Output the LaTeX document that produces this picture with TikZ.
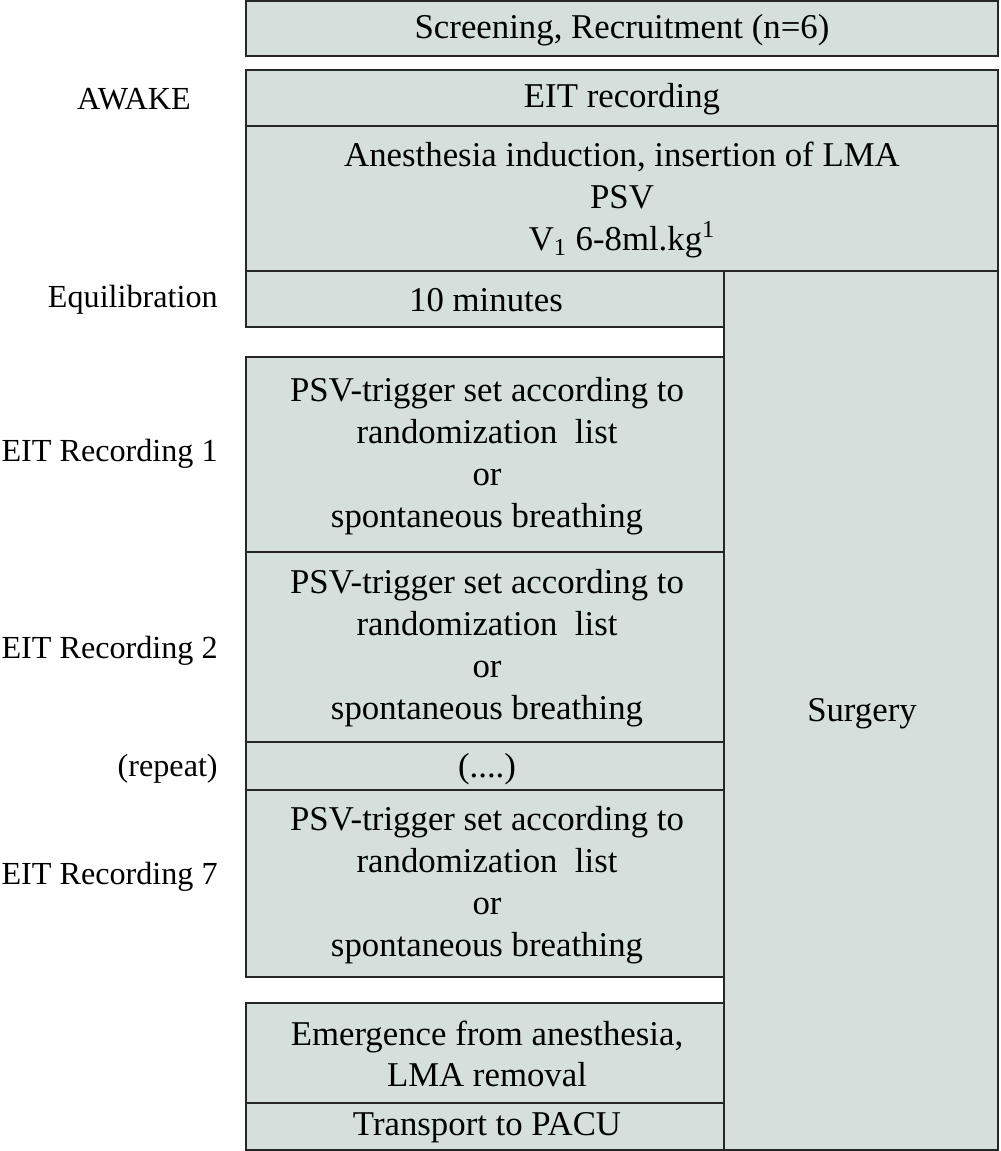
\documentclass[tikz,border=0pt]{standalone}
\usepackage{fontspec}
\setmainfont{Liberation Serif}
\definecolor{boxfill}{RGB}{213,224,221}
\begin{document}
\begin{tikzpicture}[x=0.02cm,y=-0.02cm,
  box/.style={draw=black!85,line width=0.9pt,fill=boxfill},
  txt/.style={align=center,inner sep=0pt,font=\fontsize{19.8}{23.8}\selectfont},
  lbl/.style={anchor=east,inner sep=0pt,font=\fontsize{18.3}{23.8}\selectfont}]
\useasboundingbox (0,0) rectangle (1000,1151);
% surgery column
\draw[box] (724,271) rectangle (998,1150);
% boxes
\draw[box] (246,1) rectangle (998,56);
\draw[box] (246,70) rectangle (998,126);
\draw[box] (246,126) rectangle (998,271);
\draw[box] (246,271) rectangle (724,327);
\draw[box] (246,357) rectangle (724,552);
\draw[box] (246,552) rectangle (724,742);
\draw[box] (246,742) rectangle (724,790);
\draw[box] (246,790) rectangle (724,977);
\draw[box] (246,1003) rectangle (724,1103);
\draw[box] (246,1103) rectangle (724,1150);
% box texts
\node[txt] (screen) at (622,30) {Screening, Recruitment (n=6)};
\node[txt] (eit0) at (622,99) {EIT recording};
\node[txt] (anes) at (622,200) {Anesthesia induction, insertion of LMA\\PSV\\V\textsubscript{1} 6-8ml.kg\textsuperscript{1}};
\node[txt] (min) at (486,300) {10 minutes};
\node[txt] (r1) at (487,456) {PSV-trigger set according to\\randomization\ \ list\\or\\spontaneous breathing};
\node[txt] (r2) at (487,648) {PSV-trigger set according to\\randomization\ \ list\\or\\spontaneous breathing};
\node[txt] (rep) at (487,769) {(....)};
\node[txt] (r7) at (487,885) {PSV-trigger set according to\\randomization\ \ list\\or\\spontaneous breathing};
\node[txt] (emerg) at (487,1054) {Emergence from anesthesia,\\LMA removal};
\node[txt] (pacu) at (487,1128) {Transport to PACU};
\node[txt] (surg) at (862,714) {Surgery};
% left labels
\node[lbl, anchor=center] (awake) at (134,99) {AWAKE};
\node[lbl] (lequ) at (218,300) {Equilibration};
\node[lbl] (l1) at (218,454) {EIT Recording 1};
\node[lbl] (l2) at (218,651) {EIT Recording 2};
\node[lbl] (lrep) at (218,769) {(repeat)};
\node[lbl] (l7) at (218,877) {EIT Recording 7};
\end{tikzpicture}
\end{document}
